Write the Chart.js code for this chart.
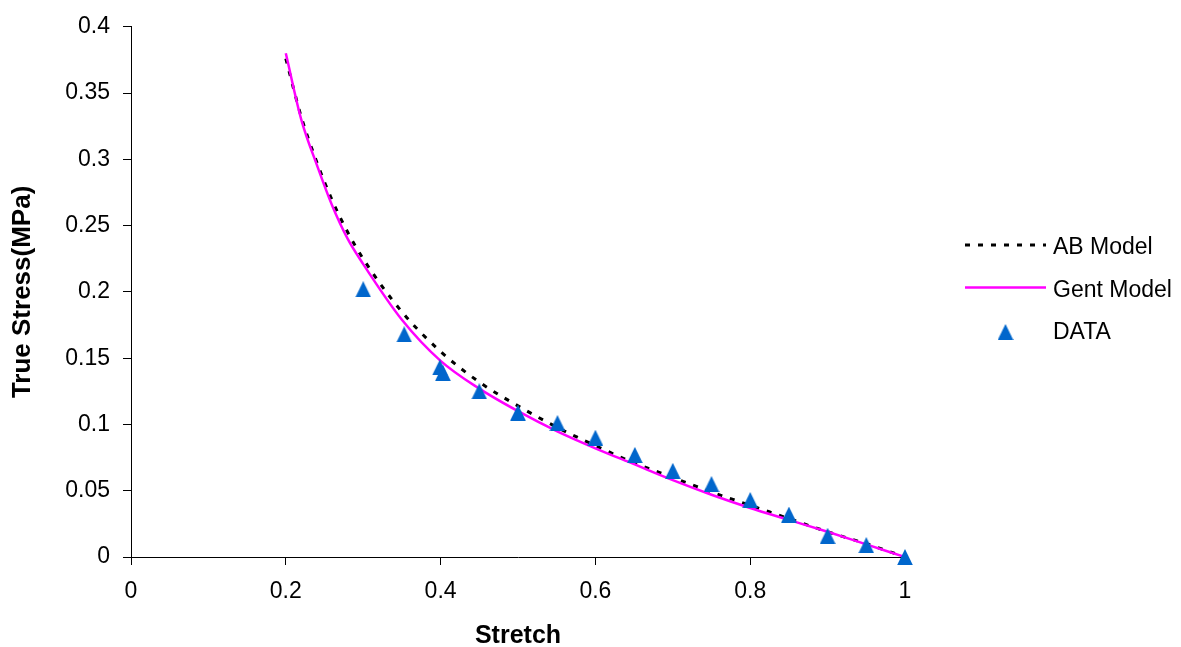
<!DOCTYPE html>
<html>
<head>
<meta charset="utf-8">
<title>True Stress vs Stretch</title>
<script src="https://cdn.jsdelivr.net/npm/chart.js@4/dist/chart.umd.min.js"></script>
<style>
  html, body { margin: 0; padding: 0; background: #fff; }
  canvas { display: block; }
</style>
</head>
<body>
<canvas id="chart" width="1181" height="647"></canvas>
<script>
// model curves, sampled along stretch
const modelStretch = [0.20, 0.22, 0.24, 0.26, 0.28, 0.30, 0.35, 0.40, 0.45, 0.50,
                      0.55, 0.60, 0.65, 0.70, 0.75, 0.80, 0.85, 0.90, 0.95, 1.00];
const abStress   = [0.376, 0.332, 0.298, 0.269, 0.245, 0.225, 0.185, 0.155, 0.132, 0.114,
                    0.098, 0.084, 0.071, 0.060, 0.049, 0.039, 0.029, 0.019, 0.010, 0.000];
const gentStress = [0.380, 0.330, 0.296, 0.265, 0.240, 0.221, 0.179, 0.148, 0.127, 0.110,
                    0.095, 0.082, 0.070, 0.058, 0.047, 0.037, 0.028, 0.019, 0.0095, 0.000];

// measured points
const dataStretch = [0.30, 0.353, 0.399, 0.403, 0.45, 0.50, 0.551, 0.60,
                     0.651, 0.70, 0.75, 0.80, 0.85, 0.90, 0.95, 1.00];
const dataStress  = [0.202, 0.168, 0.143, 0.139, 0.125, 0.109, 0.101, 0.090,
                     0.077, 0.065, 0.055, 0.043, 0.032, 0.016, 0.009, 0.000];

const xTickValues = [0, 0.2, 0.4, 0.6, 0.8, 1];
const xTickLabels = ["0", "0.2", "0.4", "0.6", "0.8", "1"];
const yTickValues = [0, 0.05, 0.1, 0.15, 0.2, 0.25, 0.3, 0.35, 0.4];
const yTickLabels = ["0", "0.05", "0.1", "0.15", "0.2", "0.25", "0.3", "0.35", "0.4"];

const FONT = "'Liberation Sans', Arial, sans-serif";

function toPoints(xs, ys) {
  return xs.map((x, i) => ({ x: x, y: ys[i] }));
}

// Excel-style triangle marker (a bit taller than wide)
function makeTriangle(color) {
  const c = document.createElement("canvas");
  c.width = 16;
  c.height = 16;
  const g = c.getContext("2d");
  g.fillStyle = color;
  g.beginPath();
  g.moveTo(8, 0);
  g.lineTo(15.8, 16);
  g.lineTo(0.2, 16);
  g.closePath();
  g.fill();
  return c;
}

const triangle = makeTriangle("#0066CC");

// legend drawn on the right, one row per dataset
const sideLegend = {
  id: "sideLegend",
  afterDraw(chart, args, opts) {
    const ctx = chart.ctx;
    ctx.save();
    ctx.font = opts.fontSize + "px " + FONT;
    ctx.fillStyle = "#000";
    ctx.textBaseline = "middle";
    ctx.textAlign = "left";
    chart.data.datasets.forEach((ds, i) => {
      const y = opts.top + i * opts.rowGap;
      if (ds.showLine) {
        ctx.save();
        ctx.strokeStyle = ds.borderColor;
        ctx.lineWidth = ds.borderWidth;
        ctx.setLineDash(ds.borderDash || []);
        ctx.beginPath();
        ctx.moveTo(opts.lineStart, y - 2);
        ctx.lineTo(opts.lineEnd, y - 2);
        ctx.stroke();
        ctx.restore();
      } else {
        const cx = (opts.lineStart + opts.lineEnd) / 2;
        ctx.drawImage(triangle, cx - 8, y - 8);
      }
      ctx.fillText(ds.label, opts.textX, y + 1);
    });
    ctx.restore();
  },
};

const ctx = document.getElementById("chart").getContext("2d");

new Chart(ctx, {
  type: "scatter",
  data: {
    datasets: [
      {
        label: "AB Model",
        data: toPoints(modelStretch, abStress),
        showLine: true,
        borderColor: "#000000",
        borderWidth: 3,
        borderDash: [5, 8],
        pointRadius: 0,
        cubicInterpolationMode: "monotone",
        order: 3,
      },
      {
        label: "Gent Model",
        data: toPoints(modelStretch, gentStress),
        showLine: true,
        borderColor: "#FF00FF",
        borderWidth: 2.5,
        pointRadius: 0,
        cubicInterpolationMode: "monotone",
        order: 2,
      },
      {
        label: "DATA",
        data: toPoints(dataStretch, dataStress),
        showLine: false,
        pointStyle: triangle,
        pointRadius: 8,
        clip: false,
        order: 1,
      },
    ],
  },
  options: {
    responsive: false,
    animation: false,
    devicePixelRatio: 1,
    layout: {
      padding: { left: 0, top: 24, right: 276, bottom: 0 },
    },
    plugins: {
      legend: { display: false },
      tooltip: { enabled: false },
      sideLegend: {
        top: 247,
        rowGap: 42.5,
        lineStart: 965,
        lineEnd: 1046,
        textX: 1053,
        fontSize: 23,
      },
    },
    scales: {
      x: {
        type: "linear",
        min: 0,
        max: 1,
        afterBuildTicks: (scale) => {
          scale.ticks = xTickValues.map((v) => ({ value: v }));
        },
        afterFit: (scale) => {
          scale.height = 90;
        },
        ticks: {
          color: "#000",
          font: { family: FONT, size: 23 },
          padding: 13,
          maxRotation: 0,
          callback: (v, i) => xTickLabels[i],
        },
        grid: {
          drawOnChartArea: false,
          drawTicks: true,
          tickLength: 8,
          color: "#000",
        },
        border: { color: "#000", width: 1 },
        title: {
          display: true,
          text: "Stretch",
          color: "#000",
          font: { family: FONT, size: 25, weight: "bold", lineHeight: 0.8 },
          padding: { top: 0, bottom: 1 },
        },
      },
      y: {
        type: "linear",
        min: 0,
        max: 0.4,
        afterBuildTicks: (scale) => {
          scale.ticks = yTickValues.map((v) => ({ value: v }));
        },
        afterFit: (scale) => {
          scale.width = 131;
        },
        ticks: {
          color: "#000",
          font: { family: FONT, size: 23 },
          padding: 13,
          callback: (v, i) => yTickLabels[i],
        },
        grid: {
          drawOnChartArea: false,
          drawTicks: true,
          tickLength: 8,
          color: "#000",
        },
        border: { color: "#000", width: 1 },
        title: {
          display: true,
          text: "True Stress(MPa)",
          color: "#000",
          font: { family: FONT, size: 26, weight: "bold", lineHeight: 1 },
          padding: { top: 10, bottom: 0 },
        },
      },
    },
  },
  plugins: [sideLegend],
});
</script>
</body>
</html>
